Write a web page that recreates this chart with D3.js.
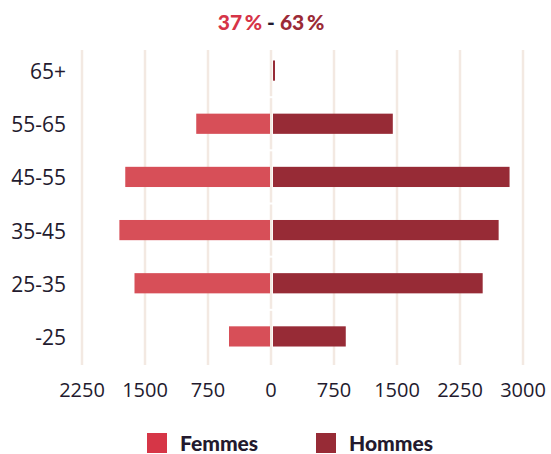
<!DOCTYPE html>
<html>
<head>
<meta charset="utf-8">
<script src="https://cdn.jsdelivr.net/npm/d3@7"></script>
<style>
  body { margin: 0; background: #fff; }
  svg { display: block; }
</style>
</head>
<body>
<div id="chart"></div>
<script>
// données
const ages = ['65+', '55-65', '45-55', '35-45', '25-35', '-25'];
const femmes = [0, 890, 1735, 1805, 1625, 500];
const hommes = [25, 1450, 2840, 2710, 2520, 890];
const ticksGauche = [2250, 1500, 750];
const ticksDroite = [0, 750, 1500, 2250, 3000];
const partFemmes = '37\u2009%';
const partHommes = '63\u2009%';

const width = 551, height = 454;
const colFemmes = '#d74f58', colHommes = '#972b36';
const colLegFemmes = '#d63647';
const grid = '#f3e9e2';
const ink = '#231a2e';

const svg = d3.select('#chart').append('svg')
  .attr('width', width)
  .attr('height', height);

const x = d3.scaleLinear()
  .domain([-2250, 3000])
  .range([82, 523]);

const y = d3.scaleBand()
  .domain(ages)
  .range([44, 363])
  .paddingInner(0.62)
  .paddingOuter(0.31);

const gridTop = 50, gridBottom = 365;

// lignes verticales
const allTicks = ticksGauche.map(d => -d).concat(ticksDroite);
svg.append('g').selectAll('line')
  .data(allTicks.filter(d => d !== 0))
  .enter().append('line')
  .attr('x1', d => x(d)).attr('x2', d => x(d))
  .attr('y1', gridTop).attr('y2', gridBottom)
  .attr('stroke', grid)
  .attr('stroke-width', 2.5);

// ligne du zéro, coupée entre chaque tranche
const step = y.step();
svg.append('g').selectAll('line')
  .data(ages)
  .enter().append('line')
  .attr('x1', x(0)).attr('x2', x(0))
  .attr('y1', (d, i) => i === 0 ? gridTop : y(d) + y.bandwidth() / 2 - step / 2 + 1)
  .attr('y2', (d, i) => i === ages.length - 1 ? gridBottom : y(d) + y.bandwidth() / 2 + step / 2 - 1)
  .attr('stroke', grid)
  .attr('stroke-width', 2.5);

// barres femmes
svg.append('g').selectAll('rect')
  .data(ages.map((a, i) => ({ age: a, v: femmes[i] })).filter(d => d.v > 0))
  .enter().append('rect')
  .attr('x', d => x(-d.v))
  .attr('width', d => x(0) - 1 - x(-d.v))
  .attr('y', d => y(d.age))
  .attr('height', y.bandwidth())
  .attr('fill', colFemmes);

// barres hommes
svg.append('g').selectAll('rect')
  .data(ages.map((a, i) => ({ age: a, v: hommes[i] })))
  .enter().append('rect')
  .attr('x', x(0) + 2)
  .attr('width', d => Math.max(2, x(d.v) - x(0) - 2))
  .attr('y', d => y(d.age))
  .attr('height', y.bandwidth())
  .attr('fill', colHommes);

// axe Y (libellés)
svg.append('g').selectAll('text')
  .data(ages)
  .enter().append('text')
  .attr('x', 66)
  .attr('y', d => y(d) + y.bandwidth() / 2 + 1)
  .attr('dy', '0.36em')
  .attr('text-anchor', 'end')
  .attr('font-family', 'Open Sans, sans-serif')
  .attr('font-size', 21)
  .attr('fill', ink)
  .text(d => d);

// axe X
svg.append('g').selectAll('text')
  .data(allTicks)
  .enter().append('text')
  .attr('x', d => x(d))
  .attr('y', 397)
  .attr('text-anchor', 'middle')
  .attr('font-family', 'Open Sans, sans-serif')
  .attr('font-size', 20)
  .attr('fill', ink)
  .text(d => Math.abs(d));

// titre
const title = svg.append('text')
  .attr('x', x(0))
  .attr('y', 30)
  .attr('text-anchor', 'middle')
  .attr('font-family', 'Lato, sans-serif')
  .attr('font-weight', 900)
  .attr('font-size', 21);
title.append('tspan').attr('fill', '#d63447').text(partFemmes);
title.append('tspan').attr('fill', ink).text(' - ');
title.append('tspan').attr('fill', '#9b2a36').text(partHommes);

// légende
const legend = [
  { label: 'Femmes', color: colLegFemmes, x: 147 },
  { label: 'Hommes', color: colHommes, x: 316 }
];
const lg = svg.append('g').selectAll('g')
  .data(legend)
  .enter().append('g')
  .attr('transform', d => 'translate(' + d.x + ',433)');
lg.append('rect')
  .attr('width', 20).attr('height', 20)
  .attr('fill', d => d.color);
lg.append('text')
  .attr('x', 33)
  .attr('y', 18)
  .attr('font-family', 'Lato, sans-serif')
  .attr('font-weight', 900)
  .attr('font-size', 21)
  .attr('fill', ink)
  .text(d => d.label);
</script>
</body>
</html>
